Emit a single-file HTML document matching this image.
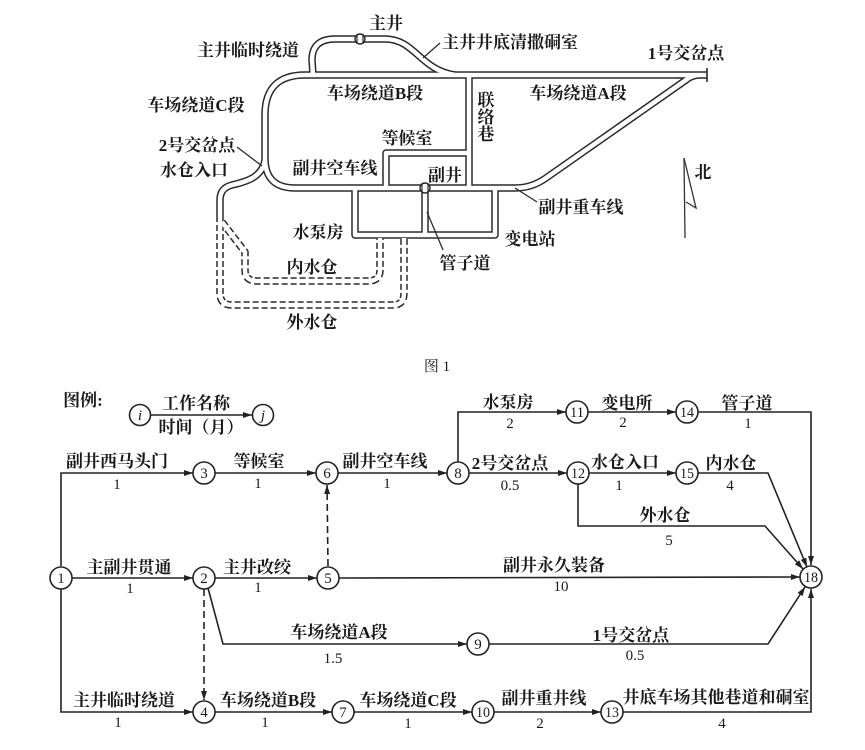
<!DOCTYPE html>
<html>
<head>
<meta charset="utf-8">
<style>
html,body{margin:0;padding:0;background:#fff;}
svg{display:block;}
.t{font-family:"Liberation Serif","Noto Serif CJK SC",serif;font-size:17px;font-weight:bold;fill:#1a1a1a;text-anchor:middle;}
.n{font-family:"Liberation Serif","Noto Serif CJK SC",serif;font-size:15px;fill:#1a1a1a;text-anchor:middle;}
.nd{font-family:"Liberation Serif",serif;font-size:15px;fill:#1a1a1a;text-anchor:middle;}
.rd{fill:none;stroke:#2a2a2a;stroke-width:7.5;stroke-linejoin:round;}
.rw{fill:none;stroke:#fff;stroke-width:4.5;stroke-linejoin:round;}
.e{fill:none;stroke:#222;stroke-width:1.6;}
.c{fill:#fff;stroke:#222;stroke-width:1.6;}
</style>
</head>
<body>
<svg width="865" height="750" viewBox="0 0 865 750" xmlns="http://www.w3.org/2000/svg">
<defs>
<marker id="a" markerWidth="10" markerHeight="8" refX="9" refY="4" orient="auto" markerUnits="userSpaceOnUse">
<path d="M0,1 L9,4 L0,7 Z" fill="#222"/>
</marker>
</defs>

<!-- ===== MAP: roads (dark layer) ===== -->
<g class="rd">
<path d="M707,75 L305,75 Q265,75 265,115 L265,158 Q265,188 295,188 L515,188 Q532,188 546,178 L686,80 Q692,75 700,75"/>
<path d="M469,75 L469,188"/>
<path d="M386,188 L386,153 L469,153"/>
<path d="M355,188 L355,235 L495,235 L495,188"/>
<path d="M425,188 L425,235"/>
<path d="M313,75 L312,60 Q312,39 335,39 L385,39 C415,39 420,70 455,75"/>
<path d="M265,160 C262,178 245,182 232,185 Q220,188 220,200 L220,216"/>
</g>
<g class="rd" stroke-dasharray="6 3">
<path d="M220,216 L220,293 Q220,305 232,305 L393,305 Q404,305 404,293 L404,238"/>
<path d="M222,222 L245,252 L245,270 Q245,281 257,281 L368,281 Q380,281 380,270 L380,238"/>
</g>
<!-- roads (white layer) -->
<g class="rw">
<path d="M707,75 L305,75 Q265,75 265,115 L265,158 Q265,188 295,188 L515,188 Q532,188 546,178 L686,80 Q692,75 700,75"/>
<path d="M469,75 L469,188"/>
<path d="M386,188 L386,153 L469,153"/>
<path d="M355,188 L355,235 L495,235 L495,188"/>
<path d="M425,188 L425,235"/>
<path d="M313,75 L312,60 Q312,39 335,39 L385,39 C415,39 420,70 455,75"/>
<path d="M265,160 C262,178 245,182 232,185 Q220,188 220,200 L220,216"/>
<path d="M220,216 L220,293 Q220,305 232,305 L393,305 Q404,305 404,293 L404,238"/>
<path d="M222,222 L245,252 L245,270 Q245,281 257,281 L368,281 Q380,281 380,270 L380,238"/>
</g>
<!-- 1号交岔点 end mark -->
<line x1="707" y1="68" x2="707" y2="82" stroke="#2a2a2a" stroke-width="1.6"/>
<!-- shafts -->
<g fill="#fff" stroke="#2a2a2a" stroke-width="1.4">
<circle cx="360" cy="39" r="5"/>
<circle cx="425" cy="188" r="5"/>
</g>
<g stroke="#2a2a2a" stroke-width="1.2">
<line x1="357" y1="34" x2="357" y2="44"/><line x1="363" y1="34" x2="363" y2="44"/>
<line x1="422" y1="183" x2="422" y2="193"/><line x1="428" y1="183" x2="428" y2="193"/>
</g>
<!-- leader lines -->
<g stroke="#2a2a2a" stroke-width="1.3">
<line x1="423" y1="58" x2="440" y2="43"/>
<line x1="237" y1="147" x2="262" y2="166"/>
<line x1="515" y1="188" x2="537" y2="202"/>
<line x1="427" y1="212" x2="443" y2="250"/>
</g>
<!-- compass -->
<g stroke="#333" stroke-width="1.3" fill="none">
<line x1="684" y1="158" x2="685" y2="238"/>
<path d="M684,158 L696,208 L686,202"/>
</g>

<!-- map labels -->
<text class="t" x="386" y="29">主井</text>
<text class="t" x="248" y="56">主井临时绕道</text>
<text class="t" x="510" y="48">主井井底清撒硐室</text>
<text class="t" x="686" y="59">1号交岔点</text>
<text class="t" x="578" y="99">车场绕道A段</text>
<text class="t" x="375" y="99">车场绕道B段</text>
<text class="t" x="196" y="111">车场绕道C段</text>
<text class="t" x="486" y="106">联</text>
<text class="t" x="486" y="123">络</text>
<text class="t" x="486" y="140">巷</text>
<text class="t" x="197" y="151">2号交岔点</text>
<text class="t" x="194" y="176">水仓入口</text>
<text class="t" x="407" y="144">等候室</text>
<text class="t" x="335" y="174">副井空车线</text>
<text class="t" x="445" y="181">副井</text>
<text class="t" x="318" y="238">水泵房</text>
<text class="t" x="530" y="245">变电站</text>
<text class="t" x="465" y="269">管子道</text>
<text class="t" x="581" y="213">副井重车线</text>
<text class="t" x="312" y="273">内水仓</text>
<text class="t" x="312" y="328">外水仓</text>
<text class="t" x="703" y="178">北</text>
<text class="n" x="437" y="371">图 1</text>

<!-- ===== NETWORK ===== -->
<!-- legend -->
<text class="t" x="83" y="406">图例:</text>
<line class="e" x1="151" y1="415" x2="252" y2="415" marker-end="url(#a)"/>
<text class="t" x="196" y="409">工作名称</text>
<text class="t" x="201" y="433">时间（月）</text>

<!-- edges -->
<g class="e">
<path d="M61,566 L61,473 L193,473" marker-end="url(#a)"/>
<path d="M61,589 L61,712 L193,712" marker-end="url(#a)"/>
<path d="M72,578 L193,578" marker-end="url(#a)"/>
<path d="M215,473 L316,473" marker-end="url(#a)"/>
<path d="M338,473 L447,473" marker-end="url(#a)"/>
<path d="M215,578 L317,578" marker-end="url(#a)"/>
<path d="M339,578 L800,577" marker-end="url(#a)"/>
<path d="M208,588 L223,644 L467,644" marker-end="url(#a)"/>
<path d="M215,712 L332,712" marker-end="url(#a)"/>
<path d="M354,712 L472,712" marker-end="url(#a)"/>
<path d="M494,712 L601,712" marker-end="url(#a)"/>
<path d="M623,712 L811,712 L811,589" marker-end="url(#a)"/>
<path d="M489,644 L768,644 L805,587" marker-end="url(#a)"/>
<path d="M458,462 L458,412 L566,412" marker-end="url(#a)"/>
<path d="M588,412 L676,412" marker-end="url(#a)"/>
<path d="M698,412 L811,412 L811,565" marker-end="url(#a)"/>
<path d="M469,473 L567,473" marker-end="url(#a)"/>
<path d="M589,473 L676,473" marker-end="url(#a)"/>
<path d="M698,473 L768,473 L807,567" marker-end="url(#a)"/>
<path d="M578,484 L578,526 L765,526 L803,569" marker-end="url(#a)"/>
</g>
<g class="e" stroke-dasharray="7 4">
<path d="M328,566 L327,485" marker-end="url(#a)"/>
<path d="M204,589 L204,700" marker-end="url(#a)"/>
</g>

<!-- nodes -->
<g class="c">
<circle cx="140" cy="415" r="10.5"/>
<circle cx="263" cy="415" r="10.5"/>
<circle cx="61" cy="578" r="11"/>
<circle cx="204" cy="578" r="11"/>
<circle cx="204" cy="473" r="11"/>
<circle cx="204" cy="712" r="11"/>
<circle cx="328" cy="578" r="11"/>
<circle cx="327" cy="473" r="11"/>
<circle cx="343" cy="712" r="11"/>
<circle cx="458" cy="473" r="11"/>
<circle cx="478" cy="644" r="11"/>
<circle cx="483" cy="712" r="11"/>
<circle cx="577" cy="412" r="11"/>
<circle cx="578" cy="473" r="11"/>
<circle cx="612" cy="712" r="11"/>
<circle cx="687" cy="412" r="11"/>
<circle cx="687" cy="473" r="11"/>
<circle cx="811" cy="577" r="11"/>
</g>
<g class="nd">
<text x="140" y="420" font-style="italic">i</text>
<text x="263" y="420" font-style="italic">j</text>
<text x="61" y="583">1</text>
<text x="204" y="583">2</text>
<text x="204" y="478">3</text>
<text x="204" y="717">4</text>
<text x="328" y="583">5</text>
<text x="327" y="478">6</text>
<text x="343" y="717">7</text>
<text x="458" y="478">8</text>
<text x="478" y="649">9</text>
<text x="483" y="717" textLength="14" lengthAdjust="spacingAndGlyphs">10</text>
<text x="577" y="417" textLength="14" lengthAdjust="spacingAndGlyphs">11</text>
<text x="578" y="478" textLength="14" lengthAdjust="spacingAndGlyphs">12</text>
<text x="612" y="717" textLength="14" lengthAdjust="spacingAndGlyphs">13</text>
<text x="687" y="417" textLength="14" lengthAdjust="spacingAndGlyphs">14</text>
<text x="687" y="478" textLength="14" lengthAdjust="spacingAndGlyphs">15</text>
<text x="811" y="582" textLength="14" lengthAdjust="spacingAndGlyphs">18</text>
</g>

<!-- edge labels -->
<text class="t" x="117" y="467">副井西马头门</text>
<text class="n" x="117" y="489">1</text>
<text class="t" x="259" y="467">等候室</text>
<text class="n" x="258" y="488">1</text>
<text class="t" x="385" y="467">副井空车线</text>
<text class="n" x="387" y="488">1</text>
<text class="t" x="508" y="408">水泵房</text>
<text class="n" x="510" y="428">2</text>
<text class="t" x="627" y="409">变电所</text>
<text class="n" x="623" y="427">2</text>
<text class="t" x="747" y="409">管子道</text>
<text class="n" x="748" y="428">1</text>
<text class="t" x="510" y="469">2号交岔点</text>
<text class="n" x="510" y="490">0.5</text>
<text class="t" x="625" y="468">水仓入口</text>
<text class="n" x="619" y="490">1</text>
<text class="t" x="731" y="469">内水仓</text>
<text class="n" x="730" y="490">4</text>
<text class="t" x="665" y="521">外水仓</text>
<text class="n" x="669" y="545">5</text>
<text class="t" x="554" y="571">副井永久装备</text>
<text class="n" x="561" y="591">10</text>
<text class="t" x="129" y="573">主副井贯通</text>
<text class="n" x="130" y="593">1</text>
<text class="t" x="257" y="573">主井改绞</text>
<text class="n" x="258" y="592">1</text>
<text class="t" x="339" y="638">车场绕道A段</text>
<text class="n" x="333" y="663">1.5</text>
<text class="t" x="631" y="641">1号交岔点</text>
<text class="n" x="635" y="660">0.5</text>
<text class="t" x="124" y="706">主井临时绕道</text>
<text class="n" x="118" y="727">1</text>
<text class="t" x="268" y="706">车场绕道B段</text>
<text class="n" x="265" y="727">1</text>
<text class="t" x="408" y="706">车场绕道C段</text>
<text class="n" x="408" y="728">1</text>
<text class="t" x="544" y="704">副井重井线</text>
<text class="n" x="540" y="728">2</text>
<text class="t" x="716" y="703">井底车场其他巷道和硐室</text>
<text class="n" x="722" y="728">4</text>
</svg>
</body>
</html>
